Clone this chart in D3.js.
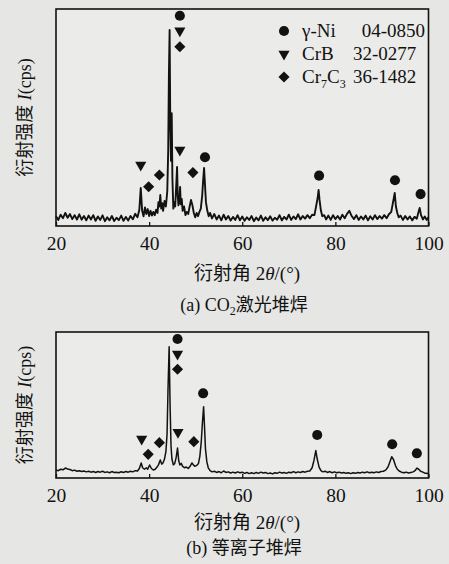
<!DOCTYPE html>
<html><head><meta charset="utf-8">
<script src="https://cdn.jsdelivr.net/npm/d3@7"></script>
<style>body{margin:0;background:#e6e6e4}svg{display:block}</style>
</head><body><svg id="c" width="449" height="564"></svg>
<script>
// ---------- data ----------
const xTickValues = [20, 40, 60, 80, 100];
const phaseNames = ["γ-Ni", "CrB", "Cr7C3"];
const pdfCards = ["04-0850", "32-0277", "36-1482"];

// (a) CO2 laser cladding
const angleA = [20.0,20.5,21.0,21.5,22.0,22.5,23.0,23.5,24.0,24.5,25.0,25.5,26.0,26.5,27.0,27.5,28.0,28.5,29.0,29.5,
30.0,30.5,31.0,31.5,32.0,32.5,33.0,33.5,34.0,34.5,35.0,35.5,36.0,36.5,37.0,37.5,37.9,38.2,38.5,38.8,
39.1,39.4,39.7,40.0,40.3,40.6,40.9,41.2,41.5,41.8,42.0,42.2,42.4,42.6,42.8,43.0,43.3,43.6,43.9,44.1,
44.25,44.4,44.55,44.7,44.85,45.0,45.2,45.4,45.6,45.85,46.0,46.15,46.3,46.5,46.65,46.8,47.0,47.2,47.5,47.8,
48.1,48.4,48.7,49.0,49.3,49.6,49.9,50.2,50.5,50.8,51.1,51.4,51.6,51.8,52.0,52.2,52.5,52.8,53.1,53.5,
54.0,54.5,55.0,55.5,56.0,56.5,57.0,57.5,58.0,58.5,59.0,59.5,60.0,60.5,61.0,61.5,62.0,62.5,63.0,63.5,
64.0,64.5,65.0,65.5,66.0,66.5,67.0,67.5,68.0,68.5,69.0,69.5,70.0,70.5,71.0,71.5,72.0,72.5,73.0,73.5,
74.0,74.5,75.0,75.5,75.9,76.2,76.4,76.6,76.9,77.2,77.6,78.0,78.5,79.0,79.5,80.0,80.5,81.0,81.5,82.0,
82.5,83.0,83.5,84.0,84.5,85.0,85.5,86.0,86.5,87.0,87.5,88.0,88.5,89.0,89.5,90.0,90.5,91.0,91.5,92.0,
92.3,92.6,92.75,93.0,93.3,93.6,94.0,94.5,95.0,95.5,96.0,96.5,97.0,97.5,97.8,98.1,98.4,98.8,99.2,99.6,100.0];
const intensityA = [4.5,2.8,5.2,3.6,6.0,3.8,5.5,3.2,5.0,3.0,5.4,2.9,4.6,2.6,4.8,3.0,5.0,2.4,4.4,2.8,
4.9,2.2,4.0,2.6,4.6,2.3,3.8,2.7,4.8,2.4,4.2,2.5,4.6,3.1,5.6,4.0,7.5,17.5,7.0,4.5,
8.5,5.5,7.8,4.6,7.0,4.8,6.5,5.0,7.5,6.0,11.0,9.0,14.3,8.0,10.5,7.0,11.5,9.0,16.0,35.0,
70.0,90.3,45.0,30.0,52.0,22.0,8.0,11.0,9.0,20.0,27.2,14.0,9.5,12.0,18.0,10.0,12.5,7.0,9.0,5.0,
6.5,5.5,9.0,12.0,9.5,6.0,4.0,6.0,4.5,6.5,8.0,14.0,21.0,26.7,19.0,11.0,7.0,4.5,6.0,3.5,
5.5,3.0,4.8,2.6,5.2,3.0,4.6,2.5,4.2,2.8,5.0,2.6,4.4,2.4,4.0,2.8,4.6,2.2,3.9,2.6,
4.8,2.4,4.0,2.7,4.5,2.5,3.8,2.9,5.0,2.6,4.2,3.0,5.2,2.8,4.4,3.2,5.4,3.0,4.6,3.4,
5.0,3.6,5.2,5.0,9.5,13.0,16.6,12.0,7.0,4.5,5.0,3.0,4.8,2.8,5.0,3.2,4.6,3.0,5.2,3.6,
5.6,7.0,4.6,3.2,5.0,2.8,4.4,3.0,4.8,2.6,4.5,3.0,5.0,3.2,4.6,3.4,5.0,3.6,5.4,6.5,
10.0,13.5,15.2,9.0,6.0,4.0,4.8,2.8,4.6,3.0,4.4,2.6,4.2,3.4,6.0,8.3,5.0,3.0,4.4,2.8,4.0];
const markerAngleA = [46.6, 46.6, 46.6, 46.6, 52.0, 38.2, 39.9, 42.2, 49.4, 76.5, 92.8, 98.3];
const markerLevelA = [96.9, 90.0, 82.6, 35.0, 31.7, 28.1, 18.1, 23.5, 24.6, 23.2, 21.1, 14.7];
const markerPhaseA = [0, 1, 2, 1, 0, 1, 2, 2, 2, 0, 0, 0];

// (b) plasma cladding
const angleB = [20.0,20.5,21.0,21.5,22.0,22.5,23.0,23.5,24.0,24.5,25.0,25.5,26.0,26.5,27.0,27.5,28.0,28.5,29.0,29.5,
30.0,30.5,31.0,31.5,32.0,32.5,33.0,33.5,34.0,34.5,35.0,35.5,36.0,36.5,37.0,37.5,37.9,38.3,38.6,39.0,
39.4,39.7,40.1,40.5,40.9,41.3,41.7,42.0,42.4,42.7,43.0,43.3,43.6,43.85,44.05,44.3,44.5,44.7,44.9,45.2,
45.5,45.8,46.1,46.35,46.6,46.9,47.2,47.6,48.0,48.4,48.8,49.2,49.5,49.8,50.2,50.6,50.9,51.2,51.45,51.7,
51.9,52.1,52.4,52.7,53.1,53.5,54.0,54.5,55.0,55.5,56.0,56.5,57.0,57.5,58.0,58.5,59.0,59.5,60.0,60.5,
61.0,61.5,62.0,62.5,63.0,63.5,64.0,64.5,65.0,65.5,66.0,66.5,67.0,67.5,68.0,68.5,69.0,69.5,70.0,70.5,
71.0,71.5,72.0,72.5,73.0,73.5,74.0,74.5,75.0,75.4,75.8,76.1,76.5,76.9,77.3,77.8,78.3,78.8,79.3,79.8,
80.3,80.8,81.3,81.8,82.3,82.8,83.3,83.8,84.3,84.8,85.3,85.8,86.3,86.8,87.3,87.8,88.3,88.8,89.3,89.8,
90.3,90.8,91.3,91.7,92.1,92.5,92.9,93.3,93.7,94.2,94.7,95.2,95.7,96.2,96.7,97.1,97.5,97.9,98.3,98.8,99.3,100.0];
const intensityB = [5.5,5.0,6.0,5.6,6.8,6.2,5.8,5.0,5.4,4.6,5.0,4.4,4.8,4.2,4.6,4.0,4.5,3.8,4.4,4.0,
4.6,3.8,4.2,3.6,4.4,3.8,4.0,3.6,4.3,3.8,4.5,4.0,4.6,4.2,5.0,4.8,6.5,10.3,7.0,6.0,
7.0,6.0,8.9,6.5,5.5,6.0,7.5,9.0,12.3,9.5,10.5,13.0,18.0,30.0,60.0,89.9,50.0,22.0,13.0,9.0,
10.0,14.0,20.5,12.0,9.0,10.0,8.0,7.0,7.5,6.5,8.0,10.3,9.0,8.0,8.5,10.0,15.0,25.0,38.0,48.8,
35.0,20.0,11.0,7.0,5.0,4.2,4.6,3.8,4.4,3.6,4.8,3.8,4.2,3.4,4.0,3.4,4.2,3.6,4.0,3.2,
3.8,3.0,3.6,3.0,3.8,3.2,4.0,3.4,3.8,3.0,3.4,2.8,3.6,3.2,4.0,3.4,3.8,3.2,4.0,3.6,
4.4,3.6,4.2,3.8,4.4,4.0,4.6,4.8,7.0,12.0,18.8,13.0,7.5,5.0,4.2,4.6,3.8,4.4,3.6,4.2,
3.6,4.0,3.4,3.8,3.2,3.6,3.0,3.6,3.2,3.8,3.4,4.0,3.6,4.2,3.6,4.0,3.6,4.2,3.8,4.4,
4.6,5.4,7.5,11.0,14.6,12.5,8.5,6.0,4.8,4.0,3.6,4.0,3.4,3.8,4.2,5.0,6.8,6.0,4.6,4.0,3.2,3.0];
const markerAngleB = [46.1, 46.1, 46.1, 51.6, 38.4, 39.8, 42.2, 46.2, 49.6, 76.1, 92.2, 97.5];
const markerLevelB = [95.2, 84.9, 74.5, 58.0, 26.7, 16.2, 24.2, 31.3, 24.9, 29.5, 23.1, 16.9];
const markerPhaseB = [0, 1, 2, 0, 1, 2, 2, 1, 2, 0, 0, 0];

// ---------- drawing ----------
const svg = d3.select("#c");
const INK = "#121212";
const SERIF = "'Liberation Serif','Noto Sans CJK SC',serif";
svg.append("rect").attr("width", 449).attr("height", 564).attr("fill", "#e6e6e4");

function symbolPath(phase) {
  if (phase === 0) return d3.symbol(d3.symbolCircle, 80)();
  if (phase === 1) return d3.symbol(d3.symbolTriangle, 54)();
  return d3.symbol(d3.symbolSquare, 62)();
}
function symbolRotate(phase) {
  return phase === 1 ? " rotate(180)" : (phase === 2 ? " rotate(45)" : "");
}

function drawPanel(p) {
  const x = d3.scaleLinear().domain([20, 100]).range([p.left, p.right]);
  const y = d3.scaleLinear().domain([0, 100]).range([p.bottom, p.top]);
  const g = svg.append("g");
  g.append("rect").attr("x", p.left).attr("y", p.top)
    .attr("width", p.right - p.left).attr("height", p.bottom - p.top)
    .attr("fill", "#ebebe9");

  const line = d3.line().x((d, i) => x(p.angles[i])).y(d => y(d));
  g.append("path").datum(p.values).attr("d", line)
    .attr("fill", "none").attr("stroke", INK).attr("stroke-width", p.lw)
    .attr("stroke-linejoin", "round");

  // frame
  g.append("rect").attr("x", p.left).attr("y", p.top)
    .attr("width", p.right - p.left).attr("height", p.bottom - p.top)
    .attr("fill", "none").attr("stroke", INK).attr("stroke-width", 1.6);

  // x axis (inner ticks)
  const ax = g.append("g").attr("transform", `translate(0,${p.bottom})`)
    .call(d3.axisBottom(x).tickValues(xTickValues).tickSize(-4).tickPadding(10).tickFormat(d3.format("d")));
  ax.select(".domain").remove();
  ax.selectAll("line").attr("stroke", INK).attr("stroke-width", 1.3);
  ax.selectAll("text").attr("font-family", SERIF).attr("font-size", 19.5).attr("fill", INK)
    .attr("dy", "0.72em");

  // markers
  g.selectAll("path.mk").data(p.mLevels).enter().append("path").attr("class", "mk")
    .attr("d", (d, i) => symbolPath(p.mPhases[i]))
    .attr("transform", (d, i) => `translate(${x(p.mAngles[i])},${y(d)})` + symbolRotate(p.mPhases[i]))
    .attr("fill", INK);

  // y title
  const yt = svg.append("text").attr("transform", `translate(25,${(p.top + p.bottom) / 2}) rotate(-90)`)
    .attr("text-anchor", "middle").attr("dominant-baseline", "central")
    .attr("font-family", SERIF).attr("font-size", 18).attr("fill", INK);
  yt.append("tspan").text("衍射强度 ");
  yt.append("tspan").attr("font-style", "italic").text("I");
  yt.append("tspan").text("(cps)");

  // x title
  const xt = svg.append("text").attr("x", 247).attr("y", p.xTitleY).attr("text-anchor", "middle")
    .attr("font-family", SERIF).attr("font-size", 19).attr("fill", INK);
  xt.append("tspan").text("衍射角 2");
  xt.append("tspan").attr("font-style", "italic").text("θ");
  xt.append("tspan").text("/(°)");

  // caption
  const cp = svg.append("text").attr("x", 244).attr("y", p.captionY).attr("text-anchor", "middle")
    .attr("font-family", SERIF).attr("font-size", 18).attr("fill", INK);
  p.caption.forEach(part => {
    const t = cp.append("tspan").text(part.t);
    if (part.sub) t.attr("font-size", 12).attr("dy", 4);
    if (part.after) t.attr("dy", -4);
  });
  return { x, y };
}

drawPanel({
  left: 56, right: 428.5, top: 9, bottom: 226, lw: 1.9,
  angles: angleA, values: intensityA,
  mAngles: markerAngleA, mLevels: markerLevelA, mPhases: markerPhaseA,
  xTitleY: 280, captionY: 311,
  caption: [{ t: "(a) CO" }, { t: "2", sub: true }, { t: "激光堆焊", after: true }]
});
drawPanel({
  left: 56, right: 428.5, top: 332, bottom: 478, lw: 1.5,
  angles: angleB, values: intensityB,
  mAngles: markerAngleB, mLevels: markerLevelB, mPhases: markerPhaseB,
  xTitleY: 529, captionY: 554,
  caption: [{ t: "(b) 等离子堆焊" }]
});

// legend (panel a)
const lg = svg.append("g");
phaseNames.forEach((name, i) => {
  const cy = 31 + i * 23;
  lg.append("path").attr("d", symbolPath(i))
    .attr("transform", `translate(284,${cy})` + symbolRotate(i)).attr("fill", INK);
  const t = lg.append("text").attr("x", 302).attr("y", cy + 6)
    .attr("font-family", SERIF).attr("font-size", 19).attr("fill", INK);
  if (name === "Cr7C3") {
    t.append("tspan").text("Cr");
    t.append("tspan").attr("font-size", 12).attr("dy", 5).text("7");
    t.append("tspan").attr("dy", -5).text("C");
    t.append("tspan").attr("font-size", 12).attr("dy", 5).text("3");
  } else {
    t.text(name);
  }
  lg.append("text").attr("x", i === 0 ? 425 : 353).attr("y", cy + 6)
    .attr("text-anchor", i === 0 ? "end" : "start")
    .attr("font-family", SERIF).attr("font-size", 19).attr("fill", INK)
    .text(pdfCards[i]);
});
</script></body></html>
